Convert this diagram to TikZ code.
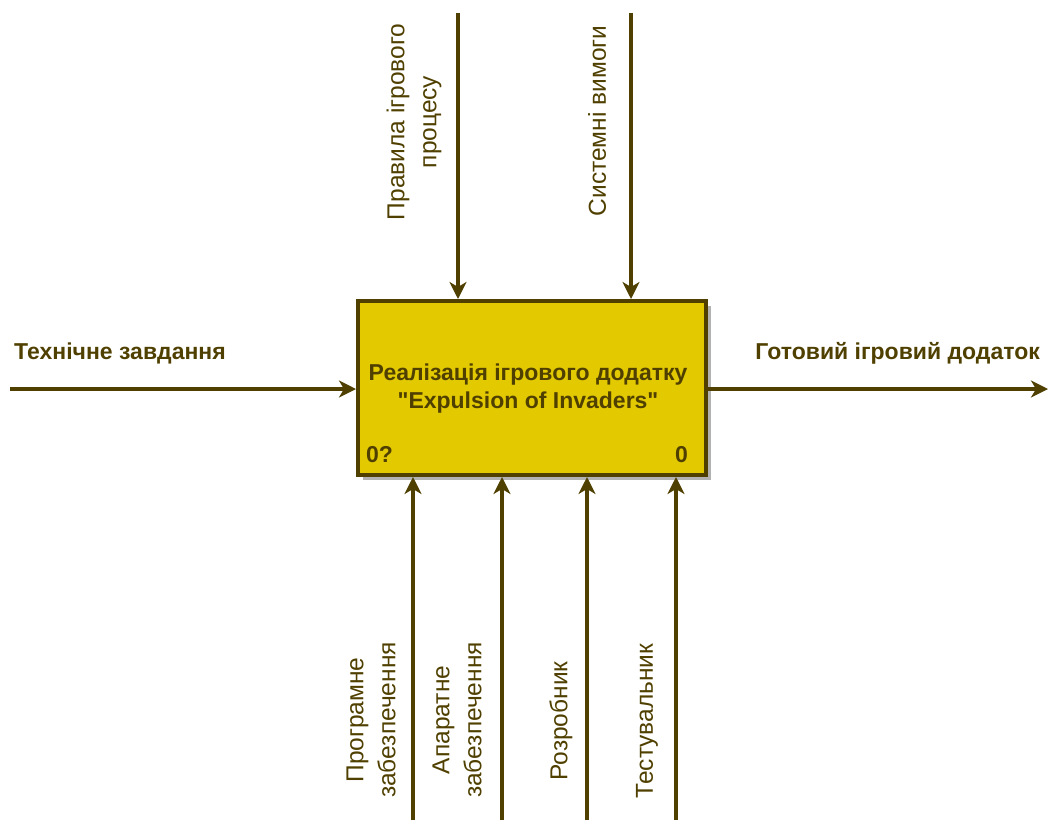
\documentclass[tikz,border=0pt]{standalone}
\usepackage{fontspec}
\setmainfont{Liberation Sans}
\usetikzlibrary{arrows.meta}
\definecolor{olive}{RGB}{80,64,0}
\definecolor{boxfill}{RGB}{227,201,0}
% straight double quote, set as a glyph so no text mapping curls it
\newcommand{\straightdq}{\XeTeXglyph\XeTeXcharglyph"22\relax}
\begin{document}
\begin{tikzpicture}[x=1pt,y=-1pt,
  flow/.style={draw=olive,line width=3.6pt,-{Stealth[length=17pt,width=17pt,inset=5pt]}},
  lbl/.style={text=olive,font=\fontsize{23}{26}\selectfont\bfseries,inner sep=0pt},
  vlbl/.style={text=olive,font=\fontsize{24.5}{32}\selectfont,inner sep=0pt,rotate=90,align=center},
  func/.style={draw=olive,fill=boxfill,line width=4pt,minimum width=348pt,minimum height=174pt,inner sep=0pt}]
\useasboundingbox (0,0) rectangle (1049,820);
% shadow under the activity box
\fill[black!30] (363,306) rectangle (711,480);
\node[func] (act) at (532,388) {};
\node[text=olive,font=\fontsize{23}{28}\selectfont\bfseries,align=center,inner sep=0pt] (title) at (528,389)
  {Реалізація ігрового додатку\\\straightdq Expulsion of Invaders\straightdq};
\node[lbl,anchor=west] (num) at (366,455) {0?};
\node[lbl,anchor=east] (num2) at (688,455) {0};
% input / output
\coordinate (inS) at (10,389);
\coordinate (outE) at (1048,389);
\draw[flow] (inS) -- (act.west|-inS);
\draw[flow] (act.east|-outE) -- (outE);
\node[lbl,anchor=west] (inL) at (14,353) {Технічне завдання};
\node[lbl,anchor=east] (outL) at (1040,353) {Готовий ігровий додаток};
% controls
\coordinate (c1) at (458,13);
\coordinate (c2) at (631,13);
\draw[flow] (c1) -- (c1|-act.north);
\draw[flow] (c2) -- (c2|-act.north);
\node[vlbl] (c1L) at (414,122) {Правила ігрового\\процесу};
\node[vlbl] (c2L) at (597,121) {Системні вимоги};
% mechanisms
\coordinate (m1) at (413,820);
\coordinate (m2) at (502,820);
\coordinate (m3) at (587,820);
\coordinate (m4) at (676,820);
\foreach \m in {m1,m2,m3,m4}
  \draw[flow] (\m) -- (\m|-act.south);
\node[vlbl] (m1L) at (371,720) {Програмне\\забезпечення};
\node[vlbl] (m2L) at (457,720) {Апаратне\\забезпечення};
\node[vlbl] (m3L) at (561,721) {Розробник};
\node[vlbl] (m4L) at (647,721) {Тестувальник};
\end{tikzpicture}
\end{document}
